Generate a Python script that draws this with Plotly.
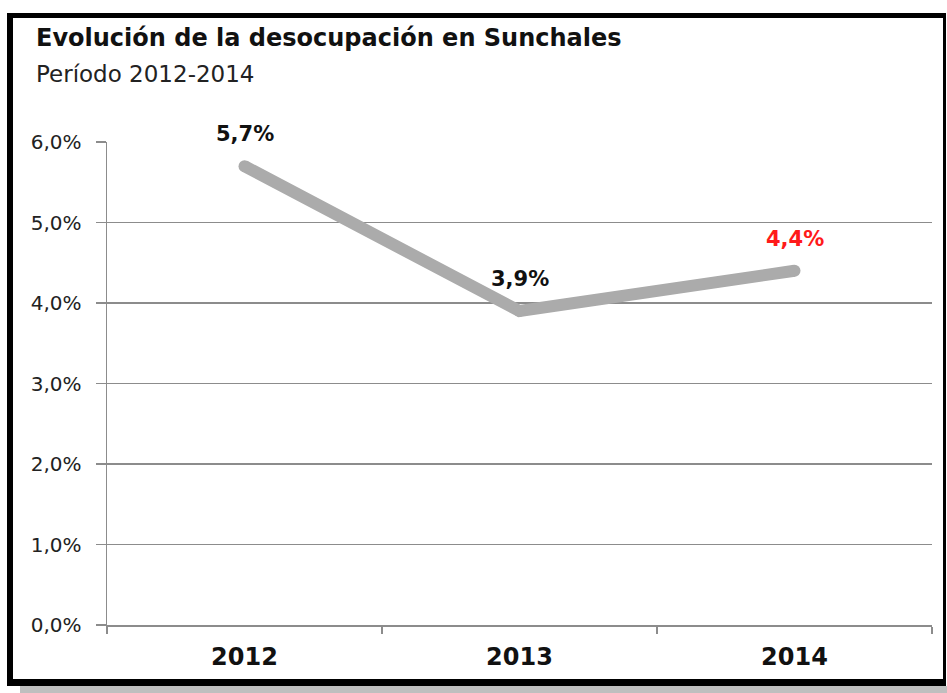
import plotly.graph_objects as go

years = ["2012", "2013", "2014"]
rate = [0.057, 0.039, 0.044]
label_colors = ["#111111", "#111111", "#FF1A1A"]
y_ticks = [0, 0.01, 0.02, 0.03, 0.04, 0.05, 0.06]

W, H = 947, 693
L, R, T, B = 107, 15, 142, 68
PW, PH = W - L - R, H - T - B

def px(x):
    return (x - L) / PW

def py(y):
    return (H - B - y) / PH

FONT = "DejaVu Sans"

fig = go.Figure()
fig.add_trace(go.Scatter(
    x=years, y=rate, mode="lines+markers",
    line=dict(color="#ABABAB", width=12),
    marker=dict(color="#ABABAB", size=12, line=dict(width=0)),
    hoverinfo="skip", showlegend=False,
))

annotations = []
for i, (v, c) in enumerate(zip(rate, label_colors)):
    annotations.append(dict(
        x=i, y=v, xref="x", yref="y", showarrow=False,
        text=f"{v*100:.1f}%".replace(".", ","),
        font=dict(family=FONT, size=21, color=c, weight="bold"),
        yshift=32, xanchor="center", yanchor="middle",
    ))

annotations.append(dict(
    x=px(34), y=py(38), xref="paper", yref="paper", showarrow=False,
    text="Evolución de la desocupación en Sunchales",
    font=dict(family=FONT, size=24, color="#111111", weight="bold"),
    xanchor="left", yanchor="middle",
))
annotations.append(dict(
    x=px(34), y=py(74), xref="paper", yref="paper", showarrow=False,
    text="Período 2012-2014",
    font=dict(family=FONT, size=23, color="#222222"),
    xanchor="left", yanchor="middle",
))

shapes = []
def rect(x0, y0, x1, y1, color):
    shapes.append(dict(type="rect", xref="paper", yref="paper",
                       x0=px(x0), x1=px(x1), y0=py(y0), y1=py(y1),
                       fillcolor=color, line=dict(width=0), layer="above"))

rect(20, 686, 947, 693, "#BFBFBF")
rect(7, 13, 946, 18, "#000000")
rect(7, 13, 13, 686, "#000000")
rect(7, 679, 946, 686, "#000000")
rect(943, 13, 946, 686, "#000000")

fig.update_layout(
    width=W, height=H,
    margin=dict(l=L, r=R, t=T, b=B),
    paper_bgcolor="white", plot_bgcolor="white",
    separators=",.",
    annotations=annotations,
    shapes=shapes,
    xaxis=dict(
        type="category", tickson="boundaries", range=[-0.5, 2.5],
        showgrid=False, showline=True, linecolor="#8C8C8C", linewidth=1.5,
        ticks="outside", ticklen=7, tickcolor="#8C8C8C", tickwidth=1.5,
        ticklabelstandoff=10,
        tickfont=dict(family=FONT, size=24, color="#111111", weight="bold"),
        fixedrange=True,
    ),
    yaxis=dict(
        range=[0, 0.06], tickvals=y_ticks, tickformat=".1%",
        showgrid=True, gridcolor="#8C8C8C", gridwidth=1.5,
        showline=True, linecolor="#8C8C8C", linewidth=1.5,
        ticks="outside", ticklen=10, tickcolor="#8C8C8C", tickwidth=1.5,
        ticklabelstandoff=10,
        tickfont=dict(family=FONT, size=20, color="#222222"),
        zeroline=False, fixedrange=True,
    ),
)

html = fig.to_html(include_plotlyjs=True, full_html=True,
                   config={"displayModeBar": False, "staticPlot": True})
html = html.replace("<head>", "<head><style>html,body{margin:0;padding:0;overflow:hidden;}</style>", 1)
with open("out.html", "w", encoding="utf-8") as f:
    f.write(html)
